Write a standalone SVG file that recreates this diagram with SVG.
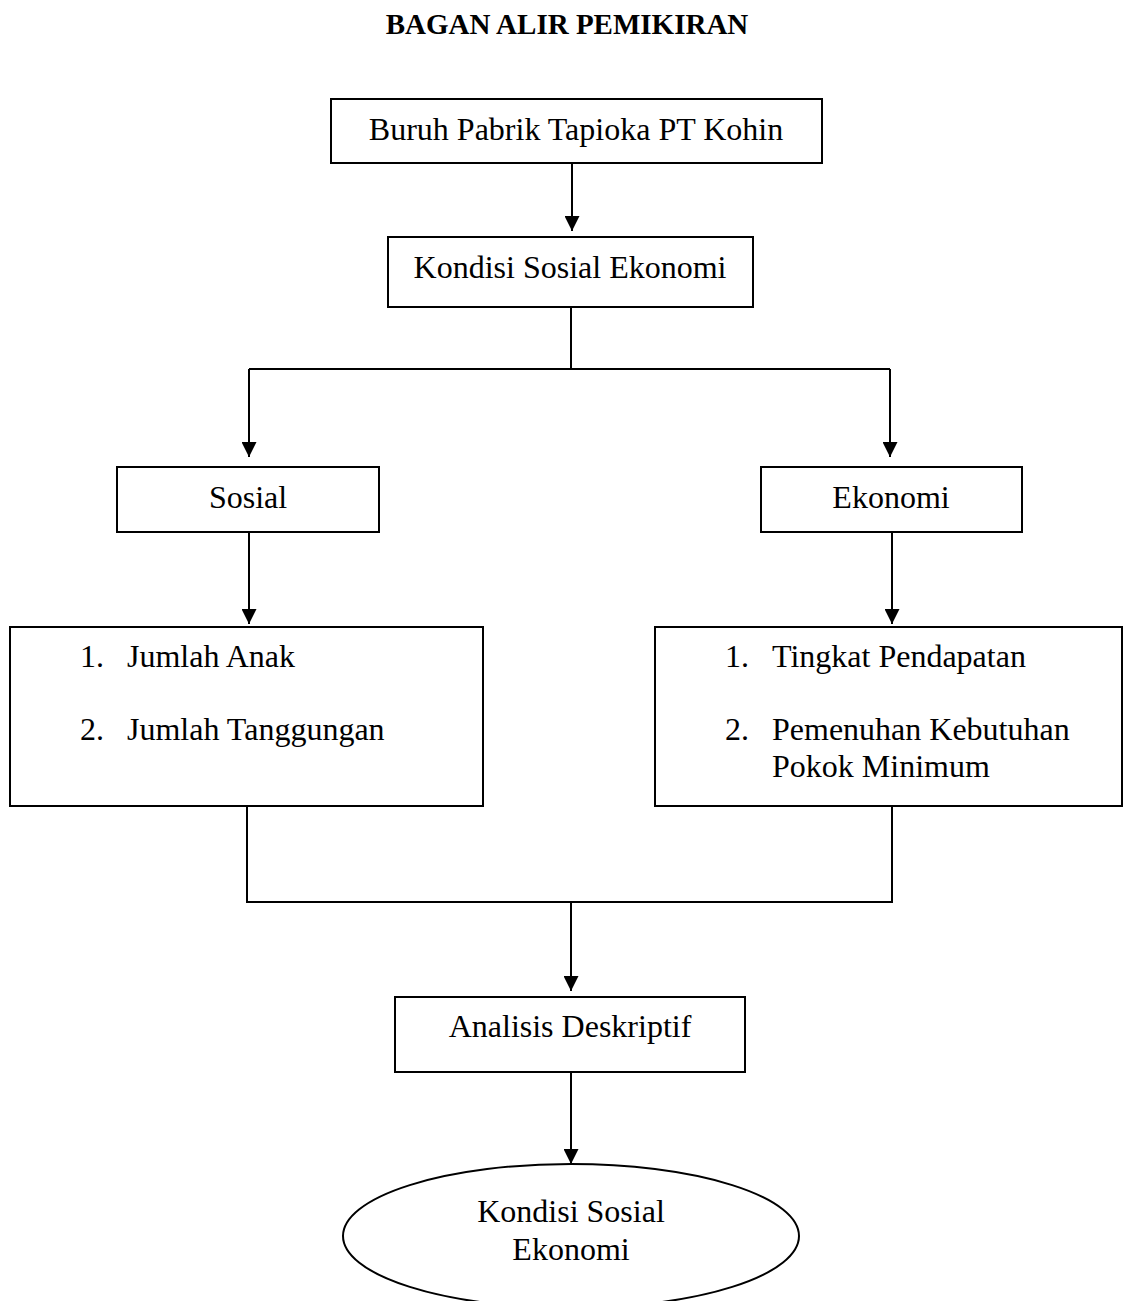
<svg xmlns="http://www.w3.org/2000/svg" width="1123" height="1301" viewBox="0 0 1123 1301">
<style>
.box{fill:#fff;stroke:#000;stroke-width:2}
.t{font-family:"Liberation Serif","Times New Roman",serif;font-size:32px;fill:#000}
.c{text-anchor:middle}
.title{font-family:"Liberation Serif","Times New Roman",serif;font-size:29px;font-weight:bold;text-anchor:middle;fill:#000}
.ln{fill:none;stroke:#000;stroke-width:2}
</style>
<defs>
<marker id="ah" markerUnits="userSpaceOnUse" markerWidth="15" markerHeight="15" refX="15" refY="7.5" orient="auto" viewBox="0 0 15 15">
<path d="M0,0 L15,7.5 L0,15 z" fill="#000"/>
</marker>
</defs>
<rect width="1123" height="1301" fill="#fff"/>
<text class="title" x="567" y="34">BAGAN ALIR PEMIKIRAN</text>
<g id="connectors">
<path class="ln" d="M572,163 V231" marker-end="url(#ah)"/>
<path class="ln" d="M571,307 V369"/>
<path class="ln" d="M249,369 H890"/>
<path class="ln" d="M249,369 V457" marker-end="url(#ah)"/>
<path class="ln" d="M890,369 V457" marker-end="url(#ah)"/>
<path class="ln" d="M249,532 V624" marker-end="url(#ah)"/>
<path class="ln" d="M892,532 V624" marker-end="url(#ah)"/>
<path class="ln" d="M247,806 V902 H892 V806"/>
<path class="ln" d="M571,902 V991" marker-end="url(#ah)"/>
<path class="ln" d="M571,1072 V1164" marker-end="url(#ah)"/>
</g>
<g id="buruh">
<rect class="box" x="331" y="99" width="491" height="64"/>
<text class="t c" x="576" y="140">Buruh Pabrik Tapioka PT Kohin</text>
</g>
<g id="kondisi">
<rect class="box" x="388" y="237" width="365" height="70"/>
<text class="t c" x="570" y="278">Kondisi Sosial Ekonomi</text>
</g>
<g id="sosial">
<rect class="box" x="117" y="467" width="262" height="65"/>
<text class="t c" x="248" y="508">Sosial</text>
</g>
<g id="ekonomi">
<rect class="box" x="761" y="467" width="261" height="65"/>
<text class="t c" x="891" y="508">Ekonomi</text>
</g>
<g id="sosial-items">
<rect class="box" x="10" y="627" width="473" height="179"/>
<text class="t" x="80" y="667">1.</text>
<text class="t" x="127" y="667">Jumlah Anak</text>
<text class="t" x="80" y="740">2.</text>
<text class="t" x="127" y="740">Jumlah Tanggungan</text>
</g>
<g id="ekonomi-items">
<rect class="box" x="655" y="627" width="467" height="179"/>
<text class="t" x="725" y="667">1.</text>
<text class="t" x="772" y="667">Tingkat Pendapatan</text>
<text class="t" x="725" y="740">2.</text>
<text class="t" x="772" y="740">Pemenuhan Kebutuhan</text>
<text class="t" x="772" y="777">Pokok Minimum</text>
</g>
<g id="analisis">
<rect class="box" x="395" y="997" width="350" height="75"/>
<text class="t c" x="570" y="1037">Analisis Deskriptif</text>
</g>
<g id="hasil">
<ellipse class="box" cx="571" cy="1236" rx="228" ry="72"/>
<text class="t c" x="571" y="1222">Kondisi Sosial</text>
<text class="t c" x="571" y="1260">Ekonomi</text>
</g>
</svg>
